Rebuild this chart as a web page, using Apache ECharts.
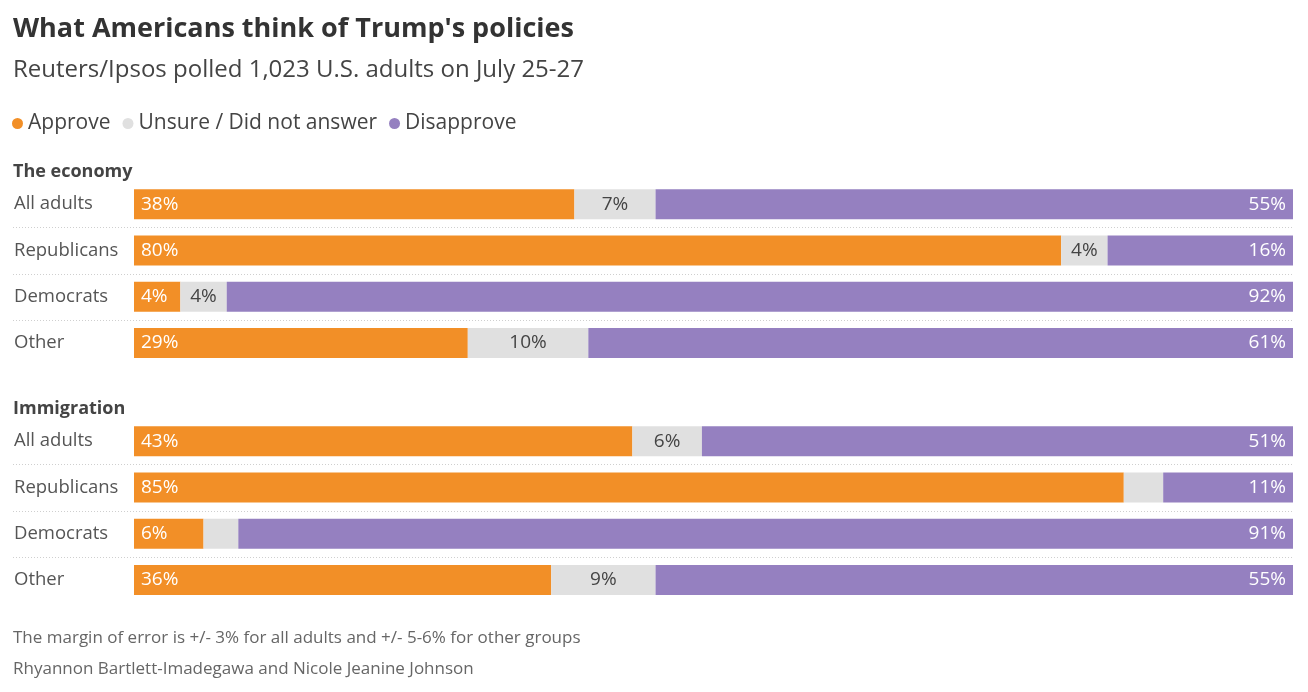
<!DOCTYPE html>
<html>
<head>
<meta charset="utf-8">
<script src="https://cdn.jsdelivr.net/npm/echarts@6/dist/echarts.min.js"></script>
<style>
  html, body { margin: 0; padding: 0; background: #fff; }
  #chart { width: 1308px; height: 692px; }
</style>
</head>
<body>
<div id="chart"></div>
<script>
var groups = ["All adults", "Republicans", "Democrats", "Other"];
var seriesNames = ["Approve", "Unsure / Did not answer", "Disapprove"];

// The economy
var econApprove = [38, 80, 4, 28.8];
var econUnsure = [7, 4, 4, 10.4];
var econDisapprove = [55, 16, 92, 60.8];

// Immigration
var immApprove = [43, 85.4, 6, 36];
var immUnsure = [6, 3.4, 3, 9];
var immDisapprove = [51, 11.2, 91, 55];

var colors = ["#f28f27", "#e0e0e0", "#9580c0"];
var font = "'Open Sans', sans-serif";

var myChart = echarts.init(document.getElementById("chart"));

function pct(p) {
  return p.value < 3.5 ? "" : Math.round(p.value) + "%";
}

// one stacked bar series
function makeSeries(name, data, idx, k) {
  var pos = ["insideLeft", "inside", "insideRight"][k];
  return {
    name: name,
    type: "bar",
    stack: "s" + idx,
    xAxisIndex: idx,
    yAxisIndex: idx,
    barWidth: 30,
    data: data,
    itemStyle: { color: colors[k] },
    emphasis: { disabled: true },
    label: {
      show: true,
      position: pos,
      distance: 7,
      formatter: pct,
      fontFamily: font,
      fontSize: 19,
      color: k == 1 ? "#444" : "#fff"
    }
  };
}

var grids = [
  { left: 134, right: 15, top: 181, height: 185 },
  { left: 134, right: 15, top: 418, height: 185 }
];

var xAxes = [0, 1].map(function (i) {
  return {
    type: "value", gridIndex: i, min: 0, max: 100,
    show: false
  };
});
var yAxes = [0, 1].map(function (i) {
  return {
    type: "category", gridIndex: i, data: groups, inverse: true,
    axisLine: { show: false }, axisTick: { show: false },
    splitLine: { show: false },
    axisLabel: {
      align: "left", margin: 120, fontFamily: font,
      fontSize: 18.5, color: "#555", padding: [3, 0, 0, 0]
    }
  };
});

var series = [
  makeSeries(seriesNames[0], econApprove, 0, 0),
  makeSeries(seriesNames[1], econUnsure, 0, 1),
  makeSeries(seriesNames[2], econDisapprove, 0, 2),
  makeSeries(seriesNames[0], immApprove, 1, 0),
  makeSeries(seriesNames[1], immUnsure, 1, 1),
  makeSeries(seriesNames[2], immDisapprove, 1, 2)
];

function head(text, top, size, weight, color) {
  return {
    text: text, left: 13, top: top, padding: 0,
    textStyle: { fontFamily: font, fontSize: size, fontWeight: weight, color: color }
  };
}

var option = {
  backgroundColor: "#fff",
  animation: false,
  title: [
    head("What Americans think of Trump's policies", 16, 27, "bold", "#333"),
    head("Reuters/Ipsos polled 1,023 U.S. adults on July 25-27", 58, 24, "normal", "#444"),
    head("The economy", 163, 18, "bold", "#444"),
    head("Immigration", 400, 18, "bold", "#444"),
    head("The margin of error is +/- 3% for all adults and +/- 5-6% for other groups", 630, 17, "normal", "#666"),
    head("Rhyannon Bartlett-Imadegawa and Nicole Jeanine Johnson", 661, 17, "normal", "#666")
  ],
  legend: {
    data: seriesNames,
    left: 12, top: 113, padding: 0,
    icon: "circle", itemWidth: 11, itemHeight: 11, itemGap: 12,
    selectedMode: false,
    textStyle: { fontFamily: font, fontSize: 21, color: "#444", padding: [0, 0, 0, 0] }
  },
  grid: grids,
  xAxis: xAxes,
  yAxis: yAxes,
  series: series
};

myChart.setOption(option);

/**
 * dotted separators between rows
 */
var lines = [];
[0, 1].forEach(function (i) {
  for (var k = 1; k < groups.length; k++) {
    var a = myChart.convertToPixel({ yAxisIndex: i }, groups[k - 1]);
    var b = myChart.convertToPixel({ yAxisIndex: i }, groups[k]);
    var y = Math.round((a + b) / 2) + 0.5;
    lines.push({
      type: "line",
      shape: { x1: 13, y1: y, x2: 1293, y2: y },
      style: { stroke: "#cfcfcf", lineWidth: 1, lineDash: [1, 2] },
      silent: true
    });
  }
});
myChart.setOption({ graphic: lines });
</script>
</body>
</html>
